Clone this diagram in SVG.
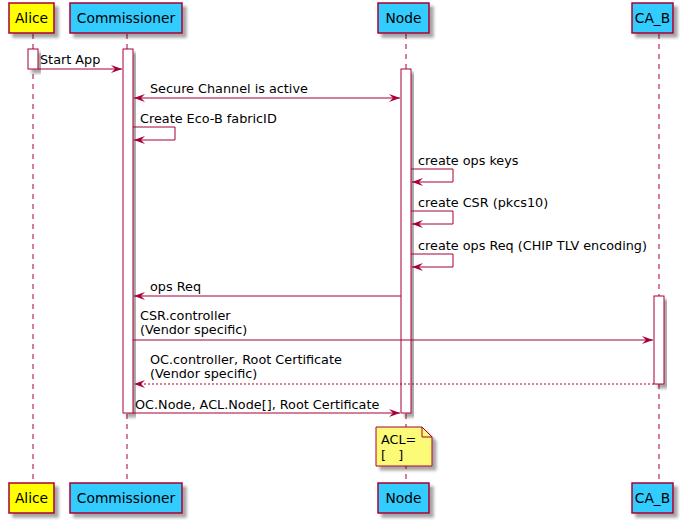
<svg xmlns="http://www.w3.org/2000/svg" width="692" height="525" viewBox="0 0 692 525">
<style>
.p{stroke:#A80036;stroke-width:1.5;filter:url(#sh)}
.pb{fill:#33CCFF}
.py{fill:#FFFF00}
.pt{font-family:"DejaVu Sans",sans-serif;font-size:13.8px;fill:#000;text-anchor:middle}
.life{stroke:#A80036;stroke-width:1;stroke-dasharray:5,5;fill:none}
.act{fill:#fff;stroke:#A80036;stroke-width:1;filter:url(#sh)}
.m{stroke:#A80036;stroke-width:1;fill:none}
.mt{font-family:"DejaVu Sans",sans-serif;font-size:12.8px;fill:#000}
.note{fill:#FBFB77;stroke:#A80036;stroke-width:1;filter:url(#sh)}
</style>
<defs>
<filter id="sh" x="-20%" y="-20%" width="150%" height="150%">
<feDropShadow dx="4" dy="4" stdDeviation="1.5" flood-color="#000" flood-opacity="0.35"/>
</filter>
<marker id="ah" markerUnits="userSpaceOnUse" viewBox="0 0 11 8" refX="11" refY="4" markerWidth="11" markerHeight="8" orient="auto-start-reverse">
<path d="M0,0 L11,4 L0,8 L4,4 Z" fill="#A80036"/>
</marker>
</defs>
<rect width="692" height="525" fill="#fff"/>
<g id="lifelines">
<line class="life" x1="33" y1="34" x2="33" y2="483"/>
<line class="life" x1="127" y1="34" x2="127" y2="483"/>
<line class="life" x1="406" y1="34" x2="406" y2="483"/>
<line class="life" x1="659" y1="34" x2="659" y2="483"/>
</g>
<g id="activations">
<rect class="act" x="28" y="49" width="10" height="20"/>
<rect class="act" x="123" y="49" width="10" height="364"/>
<rect class="act" x="401" y="69" width="10" height="344"/>
<rect class="act" x="654" y="296" width="10" height="88"/>
</g>
<g id="Alice">
<rect class="p py" x="9" y="3" width="45" height="30"/>
<text class="pt" x="31.5" y="23">Alice</text>
<rect class="p py" x="9" y="483" width="45" height="30"/>
<text class="pt" x="31.5" y="503">Alice</text>
</g>
<g id="Commissioner">
<rect class="p pb" x="70" y="3" width="112" height="30"/>
<text class="pt" x="126" y="23">Commissioner</text>
<rect class="p pb" x="70" y="483" width="112" height="30"/>
<text class="pt" x="126" y="503">Commissioner</text>
</g>
<g id="Node">
<rect class="p pb" x="378" y="3" width="51" height="30"/>
<text class="pt" x="403.5" y="23">Node</text>
<rect class="p pb" x="378" y="483" width="51" height="30"/>
<text class="pt" x="403.5" y="503">Node</text>
</g>
<g id="CA_B">
<rect class="p pb" x="632" y="3" width="41" height="30"/>
<text class="pt" x="652.5" y="23">CA_B</text>
<rect class="p pb" x="632" y="483" width="41" height="30"/>
<text class="pt" x="652.5" y="503">CA_B</text>
</g>
<g id="connectors">
<line class="m" x1="38" y1="69" x2="122" y2="69" marker-end="url(#ah)"/>
<text class="mt" x="40" y="64">Start App</text>
<line class="m" x1="134" y1="98" x2="400" y2="98" marker-start="url(#ah)" marker-end="url(#ah)"/>
<text class="mt" x="150" y="93">Secure Channel is active</text>
<polyline class="m" points="133,127 175,127 175,140 134,140" marker-end="url(#ah)"/>
<text class="mt" x="140" y="123">Create Eco-B fabricID</text>
<polyline class="m" points="411,169 453,169 453,182 412,182" marker-end="url(#ah)"/>
<text class="mt" x="418" y="165">create ops keys</text>
<polyline class="m" points="411,211 453,211 453,224 412,224" marker-end="url(#ah)"/>
<text class="mt" x="418" y="207">create CSR (pkcs10)</text>
<polyline class="m" points="411,254 453,254 453,267 412,267" marker-end="url(#ah)"/>
<text class="mt" x="418" y="250">create ops Req (CHIP TLV encoding)</text>
<line class="m" x1="401" y1="296" x2="134" y2="296" marker-end="url(#ah)"/>
<text class="mt" x="150" y="291">ops Req</text>
<line class="m" x1="133" y1="340" x2="653" y2="340" marker-end="url(#ah)"/>
<text class="mt" x="140" y="320">CSR.controller</text>
<text class="mt" x="140" y="334">(Vendor specific)</text>
<line class="m" x1="654" y1="384" x2="134" y2="384" stroke-dasharray="2,2" marker-end="url(#ah)"/>
<text class="mt" x="150" y="364">OC.controller, Root Certificate</text>
<text class="mt" x="150" y="378">(Vendor specific)</text>
<line class="m" x1="133" y1="413" x2="400" y2="413" marker-end="url(#ah)"/>
<text class="mt" x="135" y="409">OC.Node, ACL.Node[], Root Certificate</text>
</g>
<g id="note">
<path class="note" d="M376,427 L422,427 L432,437 L432,466 L376,466 Z"/>
<path d="M422,427 L422,437 L432,437" fill="none" stroke="#A80036" stroke-width="1"/>
<text class="mt" x="381" y="444">ACL=</text>
<text class="mt" x="381" y="459" xml:space="preserve">[   ]</text>
</g>
</svg>
